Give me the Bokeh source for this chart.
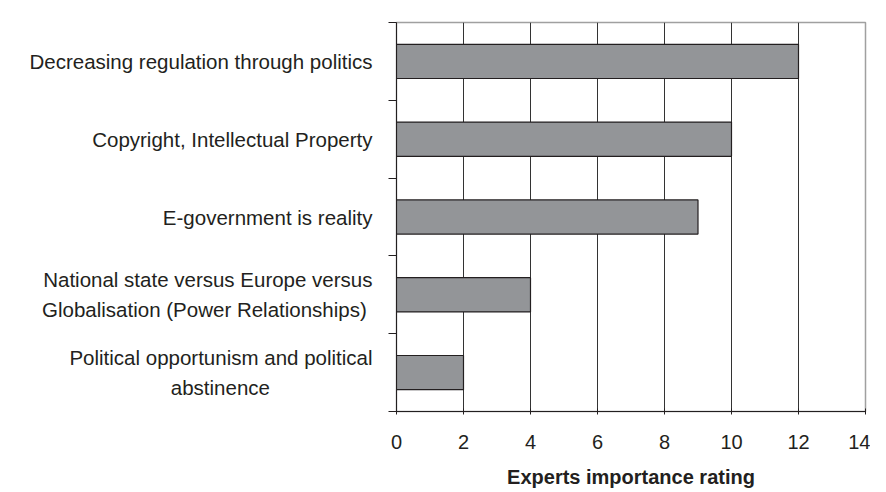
from bokeh.plotting import figure
from bokeh.models import Range1d, FixedTicker, LinearAxis
from bokeh.embed import file_html
from bokeh.resources import INLINE

categories = [
    "Decreasing regulation through politics",
    "Copyright, Intellectual Property",
    "E-government is reality",
    "National state versus Europe versus\nGlobalisation (Power Relationships)",
    "Political opportunism and political\nabstinence",
]
values = [12, 10, 9, 4, 2]
x_ticks = [0, 2, 4, 6, 8, 10, 12, 14]
x_title = "Experts importance rating"

n = len(categories)
ypos = [n - i - 0.5 for i in range(n)]

TEXT = "#231f20"
FONT = "Liberation Sans"

# second lines are centred under the first line: pad them on the right
NBSP = "\u00a0"
pads = [0, 0, 0, 1, 18]
label_texts = []
for cat, pad in zip(categories, pads):
    lines = cat.split("\n")
    if len(lines) > 1:
        lines[1] = lines[1] + NBSP * pad
    label_texts.append("\n".join(lines))

p = figure(width=870, height=490, output_backend="svg", toolbar_location=None,
           x_range=Range1d(0, 14), y_range=Range1d(0, n),
           min_border_left=396, min_border_right=5, min_border_top=22,
           min_border_bottom=79)

p.hbar(y=ypos, right=values, left=0, height=0.44, fill_color="#939598",
       line_color=TEXT, line_width=1.2)

p.outline_line_color = "#a0a0a0"
p.outline_line_width = 1.5

p.xgrid.ticker = FixedTicker(ticks=x_ticks[1:-1])
p.xgrid.grid_line_color = "#333333"
p.xgrid.grid_line_width = 1
p.ygrid.grid_line_color = None

xa = p.xaxis[0]
xa.ticker = FixedTicker(ticks=x_ticks)
xa.axis_line_color = TEXT
xa.major_tick_line_color = TEXT
xa.major_tick_in = 3
xa.major_tick_out = 3
xa.minor_tick_line_color = None
xa.major_label_text_font = FONT
xa.major_label_text_font_size = "20px"
xa.major_label_text_color = TEXT
xa.major_label_standoff = 20
xa.axis_label = x_title
xa.axis_label_text_font = FONT
xa.axis_label_text_font_size = "20px"
xa.axis_label_text_font_style = "bold"
xa.axis_label_text_color = TEXT
xa.axis_label_standoff = 14

ya = p.yaxis[0]
ya.ticker = FixedTicker(ticks=list(range(n + 1)))
ya.axis_line_color = TEXT
ya.major_tick_line_color = TEXT
ya.major_tick_in = 0
ya.major_tick_out = 8
ya.minor_tick_line_color = None
ya.major_label_overrides = {i: "" for i in range(n + 1)}
ya.major_label_standoff = 0

# category labels on a second (tick-less) left axis at the category centres
la = LinearAxis(ticker=FixedTicker(ticks=ypos),
                major_label_overrides={yv: t for yv, t in zip(ypos, label_texts)})
la.axis_line_color = None
la.major_tick_line_color = None
la.major_tick_in = 0
la.major_tick_out = 0
la.minor_tick_line_color = None
la.major_label_text_font = FONT
la.major_label_text_font_size = "20.5px"
la.major_label_text_color = TEXT
la.major_label_standoff = 16
la.major_label_text_line_height = 1.3
p.add_layout(la, "left")

open("out.html", "w").write(file_html(p, INLINE))
